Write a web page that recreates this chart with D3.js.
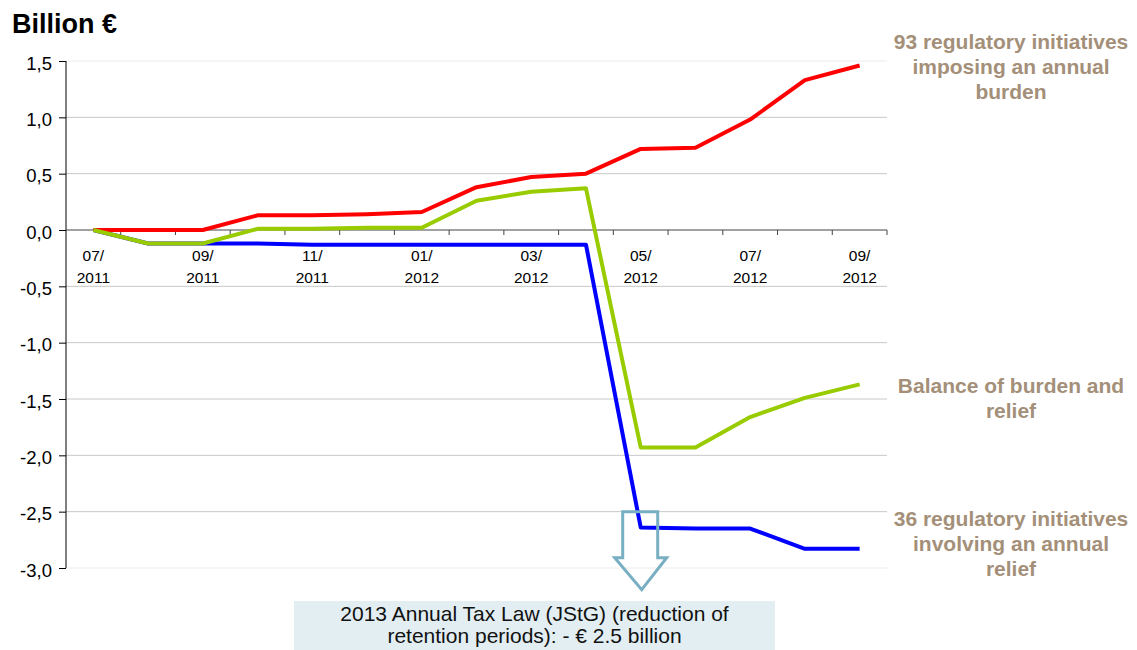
<!DOCTYPE html>
<html><head><meta charset="utf-8">
<script src="https://cdn.jsdelivr.net/npm/d3@7"></script>
<style>body{margin:0;background:#fff;} svg{display:block;} svg text{font-family:"Liberation Sans",Arial,sans-serif;}</style>
</head><body>
<svg id="c" width="1137" height="650"></svg>
<script>
const months = ["07/2011","08/2011","09/2011","10/2011","11/2011","12/2011","01/2012","02/2012","03/2012","04/2012","05/2012","06/2012","07/2012","08/2012","09/2012"];
const burden = [0, 0.0, 0.0, 0.13, 0.13, 0.14, 0.16, 0.38, 0.47, 0.50, 0.72, 0.73, 0.98, 1.33, 1.46];
const balance = [0, -0.12, -0.12, 0.01, 0.01, 0.02, 0.02, 0.26, 0.34, 0.37, -1.93, -1.93, -1.66, -1.49, -1.37];
const relief = [0, -0.12, -0.12, -0.12, -0.13, -0.13, -0.13, -0.13, -0.13, -0.13, -2.64, -2.65, -2.65, -2.83, -2.83];
const yTicks = [1.5, 1.0, 0.5, 0.0, -0.5, -1.0, -1.5, -2.0, -2.5, -3.0];
const labelMonths = ["07/2011","09/2011","11/2011","01/2012","03/2012","05/2012","07/2012","09/2012"];

const svg = d3.select("#c");
const L = 66, R = 887, T = 61, B = 568;
const x = d3.scaleBand().domain(months).range([L, R]);
const y = d3.scaleLinear().domain([-3, 1.5]).range([B, T]);
const fmt = v => d3.format(".1f")(v).replace(".", ",").replace("−","-");

// gridlines
svg.append("g").selectAll("line").data(yTicks.filter(v => v !== 0)).join("line")
  .attr("x1", L).attr("x2", R).attr("y1", d => y(d)).attr("y2", d => y(d))
  .attr("stroke", d => (d === 1.5 || d === -3) ? "#ececec" : "#c8c8c8").attr("stroke-width", 1);

// y axis
const ya = svg.append("g").attr("transform", `translate(${L},0)`)
  .call(d3.axisLeft(y).tickValues(yTicks).tickFormat(fmt).tickSize(7).tickPadding(7));
ya.select(".domain").attr("stroke", "#000").attr("d", `M0,${T}V${B}`);
ya.selectAll(".tick line").attr("stroke", "#000");
ya.selectAll(".tick text").attr("font-size", 18.5).attr("fill", "#000").attr("dy", "0.45em");

// x axis at zero
const y0 = y(0);
svg.append("line").attr("x1", L).attr("x2", R).attr("y1", y0).attr("y2", y0).attr("stroke", "#444").attr("stroke-width", 1);
const boundaries = months.map(m => x(m)).concat([R]);
svg.append("g").selectAll("line").data(boundaries.slice(1)).join("line")
  .attr("x1", d => d).attr("x2", d => d).attr("y1", y0).attr("y2", y0 + 5).attr("stroke", "#444");

const xl = svg.append("g").selectAll("text").data(labelMonths).join("text")
  .attr("text-anchor", "middle").attr("font-size", 15.5).attr("fill", "#000")
  .attr("transform", d => `translate(${x(d) + x.bandwidth() / 2},0)`);
xl.append("tspan").attr("x", 0).attr("y", y0 + 31).text(d => d.split("/")[0] + "/");
xl.append("tspan").attr("x", 0).attr("y", y0 + 53).text(d => d.split("/")[1]);

// lines
const line = d3.line().x((d, i) => x(months[i]) + x.bandwidth() / 2).y(d => y(d));
[[relief, "#0000ff"], [burden, "#ff0000"], [balance, "#99cc00"]].forEach(([data, col]) => {
  svg.append("path").datum(data).attr("d", line).attr("fill", "none")
    .attr("stroke", col).attr("stroke-width", 4).attr("stroke-linejoin", "round");
});

// title
svg.append("text").attr("x", 12).attr("y", 33).attr("font-size", 27).attr("font-weight", "bold").text("Billion €");

// right annotations
const ann = [
  [["93 regulatory initiatives", "imposing an annual", "burden"], 49],
  [["Balance of burden and", "relief"], 393],
  [["36 regulatory initiatives", "involving an annual", "relief"], 526]
];
ann.forEach(([lines, top]) => {
  const t = svg.append("text").attr("text-anchor", "middle").attr("font-size", 21)
    .attr("font-weight", "bold").attr("fill", "#a48f79");
  lines.forEach((s, i) => t.append("tspan").attr("x", 1011).attr("y", top + i * 25).text(s));
});

// arrow
const ax = x("05/2012") + x.bandwidth() / 2;
const ay = y(-2.5);
svg.append("path")
  .attr("d", `M${ax-18},${ay} H${ax+17} V${ay+46} H${ax+26} L${ax+1},${ay+78} L${ax-26},${ay+46} H${ax-18} Z`)
  .attr("fill", "none").attr("stroke", "#78afc2").attr("stroke-width", 3);

// box
svg.append("rect").attr("x", 294).attr("y", 601).attr("width", 481).attr("height", 49).attr("fill", "#e2eef2");
const bt = svg.append("text").attr("text-anchor", "middle").attr("font-size", 21).attr("fill", "#111");
bt.append("tspan").attr("x", 534.5).attr("y", 621).text("2013 Annual Tax Law (JStG) (reduction of");
bt.append("tspan").attr("x", 534.5).attr("y", 643).text("retention periods): - € 2.5 billion");
</script>
</body></html>
